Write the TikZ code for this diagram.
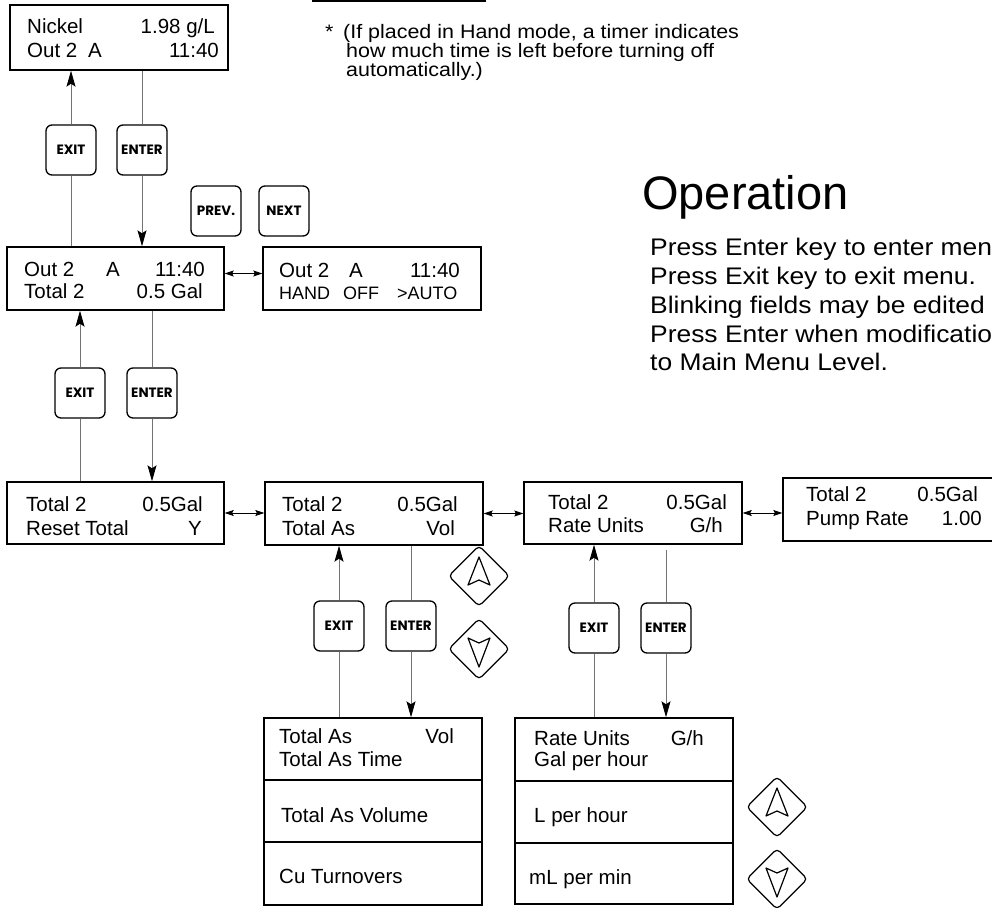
\documentclass[tikz,border=0pt]{standalone}
\usepackage{fontspec}
\setmainfont{Liberation Sans}
\newfontfamily\keyfont{Poppins}
\newfontfamily\widefont{Liberation Sans}[FakeStretch=1.1]
\usetikzlibrary{arrows.meta,shapes.geometric}
\tikzset{
  lcd/.style={draw, line width=1.4pt, inner sep=0pt, rectangle},
  key/.style={draw, line width=1.3pt, rounded corners=6pt, minimum width=50pt, minimum height=50pt, inner sep=0pt, font=\keyfont\bfseries\fontsize{13.5}{14}\selectfont},
  pad/.style={draw, line width=1.2pt, diamond, rounded corners=4pt, minimum width=61pt, minimum height=61pt, inner sep=0pt},
  bt/.style={inner sep=0pt, font=\fontsize{20.5}{24}\selectfont},
  ht/.style={inner sep=0pt, font=\fontsize{18}{22}\selectfont},
  ft/.style={inner sep=0pt, font=\widefont\fontsize{19.5}{22}\selectfont},
  bd/.style={inner sep=0pt, font=\widefont\fontsize{24}{28}\selectfont},
  conn/.style={draw=black!55, line width=1pt},
  arr/.style={-{Stealth[length=16pt,width=9pt,inset=3pt,color=black]}},
  dbl/.style={draw=black, line width=0.9pt, {Stealth[length=9pt,width=6pt,inset=1.5pt]}-{Stealth[length=9pt,width=6pt,inset=1.5pt]}},
  glyph/.style={draw, line width=1.2pt, line join=round}
}
\begin{document}
\begin{tikzpicture}[x=1pt,y=-1pt]
\useasboundingbox (0,0) rectangle (992,907);
\clip (0,0) rectangle (992,907);

% partial box at top
\draw[line width=1.4pt] (313,-20) rectangle (485,1);

% footnote
\node[ft, anchor=base west] (star) at (325,39) {*};
\node[ft, anchor=base west] (f1) at (343,39) {(If placed in Hand mode, a timer indicates};
\node[ft, anchor=base west] (f2) at (346,58) {how much time is left before turning off};
\node[ft, anchor=base west] (f3) at (346,77) {automatically.)};

% Operation
\node[inner sep=0pt, anchor=base west, font=\fontsize{47}{50}\selectfont] (op) at (642,209) {Operation};
\node[bd, anchor=base west] (o1) at (650,255) {Press Enter key to enter menu.};
\node[bd, anchor=base west] (o2) at (650,284) {Press Exit key to exit menu.};
\node[bd, anchor=base west] (o3) at (650,313) {Blinking fields may be edited};
\node[bd, anchor=base west] (o4) at (650,342) {Press Enter when modifications are complete};
\node[bd, anchor=base west] (o5) at (650,370) {to Main Menu Level.};

% LCD boxes
\node[lcd, minimum width=218pt, minimum height=65pt] (nickel) at (119,37.5) {};
\node[lcd, minimum width=217pt, minimum height=63pt] (out2) at (115.5,278.5) {};
\node[lcd, minimum width=218pt, minimum height=63pt] (hand) at (372,278.5) {};
\node[lcd, minimum width=217pt, minimum height=62pt] (b1) at (115.5,513) {};
\node[lcd, minimum width=218pt, minimum height=63pt] (b2) at (374,513.5) {};
\node[lcd, minimum width=218pt, minimum height=62pt] (b3) at (633,513) {};
\node[lcd, minimum width=220pt, minimum height=63pt] (b4) at (893,509.5) {};
\node[lcd, minimum width=218pt, minimum height=62pt] (l1a) at (373,749) {};
\node[lcd, minimum width=218pt, minimum height=62pt] (l1b) at (373,811) {};
\node[lcd, minimum width=218pt, minimum height=63pt] (l1c) at (373,873.5) {};
\node[lcd, minimum width=218pt, minimum height=63pt] (l2a) at (624,749.5) {};
\node[lcd, minimum width=218pt, minimum height=62pt] (l2b) at (624,812) {};
\node[lcd, minimum width=218pt, minimum height=61pt] (l2c) at (624,873.5) {};

% box texts
\node[bt, anchor=base west] (n1) at (27,34) {Nickel};
\node[bt, anchor=base east] (n2) at (215,34) {1.98 g/L};
\node[bt, anchor=base west] (n3) at (27,57) {Out 2};
\node[bt, anchor=base west] (n4) at (88,57) {A};
\node[bt, anchor=base east] (n5) at (219,57) {11:40};

\node[bt, anchor=base west] (p1) at (24,276) {Out 2};
\node[bt, anchor=base west] (p2) at (106,276) {A};
\node[bt, anchor=base east] (p3) at (205,276) {11:40};
\node[bt, anchor=base west] (p4) at (24,298) {Total 2};
\node[bt, anchor=base east] (p5) at (203,298) {0.5 Gal};

\node[bt, anchor=base west] (h1) at (279,277) {Out 2};
\node[bt, anchor=base west] (h2) at (349,277) {A};
\node[bt, anchor=base east] (h3) at (460,277) {11:40};
\node[ht, anchor=base west] (h4) at (279,299) {HAND};
\node[ht, anchor=base west] (h5) at (343,299) {OFF};
\node[ht, anchor=base west] (h6) at (397,299) {>AUTO};

\node[bt, anchor=base west] (r1) at (26,511) {Total 2};
\node[bt, anchor=base east] (r2) at (203,511) {0.5Gal};
\node[bt, anchor=base west] (r3) at (26,535) {Reset Total};
\node[bt, anchor=base east] (r4) at (202,535) {Y};

\node[bt, anchor=base west] (s1) at (282,511) {Total 2};
\node[bt, anchor=base east] (s2) at (458,511) {0.5Gal};
\node[bt, anchor=base west] (s3) at (282,535) {Total As};
\node[bt, anchor=base east] (s4) at (455,535) {Vol};

\node[bt, anchor=base west] (u1) at (548,509) {Total 2};
\node[bt, anchor=base east] (u2) at (727,509) {0.5Gal};
\node[bt, anchor=base west] (u3) at (548,532) {Rate Units};
\node[bt, anchor=base east] (u4) at (723,532) {G/h};

\node[bt, anchor=base west] (v1) at (806,501) {Total 2};
\node[bt, anchor=base east] (v2) at (978,501) {0.5Gal};
\node[bt, anchor=base west] (v3) at (806,525) {Pump Rate};
\node[bt, anchor=base east] (v4) at (982,525) {1.00};

\node[bt, anchor=base west] (w1) at (279,743) {Total As};
\node[bt, anchor=base east] (w2) at (454,743) {Vol};
\node[bt, anchor=base west] (w3) at (279,766) {Total As Time};
\node[bt, anchor=base west] (w4) at (281,822) {Total As Volume};
\node[bt, anchor=base west] (w5) at (279,883) {Cu Turnovers};

\node[bt, anchor=base west] (z1) at (534,745) {Rate Units};
\node[bt, anchor=base east] (z2) at (704,745) {G/h};
\node[bt, anchor=base west] (z3) at (534,766) {Gal per hour};
\node[bt, anchor=base west] (z4) at (534,822) {L per hour};
\node[bt, anchor=base west] (z5) at (529,884) {mL per min};

% keys
\node[key] (exit1) at (71,150) {EXIT};
\node[key] (enter1) at (142,150) {ENTER};
\node[key] (prev) at (216,211) {PREV.};
\node[key] (next) at (284,211) {NEXT};
\node[key] (exit2) at (80,393) {EXIT};
\node[key] (enter2) at (152,393) {ENTER};
\node[key] (exit3) at (339,626) {EXIT};
\node[key] (enter3) at (411,626) {ENTER};
\node[key] (exit4) at (594,628) {EXIT};
\node[key] (enter4) at (666,628) {ENTER};

% diamonds
\node[pad] (up1) at (479,576) {};
\node[pad] (dn1) at (479,649) {};
\node[pad] (up2) at (777,807) {};
\node[pad] (dn2) at (777,879) {};
\foreach \d in {up1,up2}{
  \draw[glyph] ([shift={(0,-19)}]\d.center) -- ([shift={(-11,9)}]\d.center) -- ([shift={(0,4)}]\d.center) -- ([shift={(11,9)}]\d.center) -- cycle;
}
\foreach \d in {dn1,dn2}{
  \draw[glyph] ([shift={(0,18)}]\d.center) -- ([shift={(-11,-11)}]\d.center) -- ([shift={(0,-6)}]\d.center) -- ([shift={(11,-11)}]\d.center) -- cycle;
}

% connectors
\draw[conn,arr] (exit1.north) -- (exit1.north |- nickel.south);
\draw[conn] (exit1.south) -- (exit1.south |- out2.north);
\draw[conn] (enter1.north) -- (enter1.north |- nickel.south);
\draw[conn,arr] (enter1.south) -- (enter1.south |- out2.north);

\draw[conn,arr] (exit2.north) -- (exit2.north |- out2.south);
\draw[conn] (exit2.south) -- (exit2.south |- b1.north);
\draw[conn] (enter2.north) -- (enter2.north |- out2.south);
\draw[conn,arr] (enter2.south) -- (enter2.south |- b1.north);

\draw[conn,arr] (exit3.north) -- (exit3.north |- b2.south);
\draw[conn] (exit3.south) -- (exit3.south |- l1a.north);
\draw[conn] (enter3.north) -- (enter3.north |- b2.south);
\draw[conn,arr] (enter3.south) -- (enter3.south |- l1a.north);

\draw[conn,arr] (exit4.north) -- (exit4.north |- b3.south);
\draw[conn] (exit4.south) -- (exit4.south |- l2a.north);
\draw[conn] (enter4.north) -- ([yshift=-5pt]enter4.north |- b3.south);
\draw[conn,arr] (enter4.south) -- (enter4.south |- l2a.north);

% double arrows
\draw[dbl] ([yshift=5pt]out2.east) -- ([yshift=5pt]hand.west);
\draw[dbl] (b1.east) -- (b1.east -| b2.west);
\draw[dbl] (b2.east) -- (b2.east -| b3.west);
\draw[dbl] (b3.east) -- (b3.east -| b4.west);
\end{tikzpicture}
\end{document}
